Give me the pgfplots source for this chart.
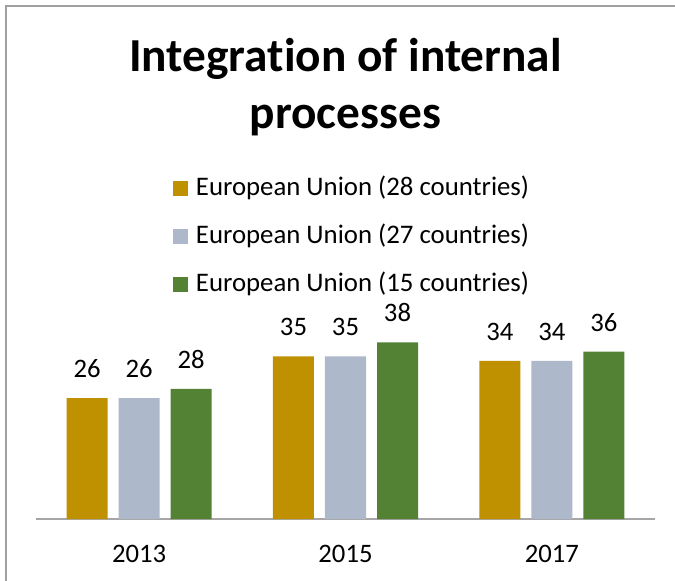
\documentclass[border=0pt]{standalone}
\usepackage{fontspec}
\setmainfont{Carlito}[RawFeature={-liga;-clig;-calt;-dlig}]
\usepackage{pgfplots}
\pgfplotsset{compat=1.18}
\definecolor{cGold}{HTML}{BF9000}
\definecolor{cGray}{HTML}{ADB9CA}
\definecolor{cGreen}{HTML}{548235}
\definecolor{cFrame}{HTML}{A0A0A0}
\definecolor{cAxis}{HTML}{A6A6A6}
\begin{document}
\begin{tikzpicture}
\useasboundingbox (0,0) rectangle (506.25pt,-435.75pt);
\draw[cFrame, line width=1pt] (4.5pt,-435.75pt) -- (4.5pt,-4.5pt) -- (506.25pt,-4.5pt);
\node[anchor=base, inner sep=0pt, font=\fontsize{35.5}{43}\selectfont\bfseries] at (259.1pt,-54pt) {Integrat\kern0pt ion of internal};
\node[anchor=base, inner sep=0pt, font=\fontsize{35.5}{43}\selectfont\bfseries] at (259.1pt,-96.75pt) {processes};
\begin{axis}[
  at={(27pt,-389.25pt)}, anchor=south west,
  scale only axis, width=464.25pt, height=139.5pt,
  xmin=-0.5, xmax=2.5, ymin=0, ymax=40,
  axis x line=bottom, axis y line=none,
  x axis line style={-, draw=cAxis, line width=1pt},
  xtick={0,1,2}, xticklabels={2013,2015,2017},
  major tick length=0pt,
  /pgf/number format/assume math mode=true,
  xticklabel style={anchor=base, yshift=-32.25pt, inner sep=0pt, font=\fontsize{20}{24}\selectfont},
  ytick=\empty,
  clip=false,
  ybar=8.25pt, bar width=30.75pt,
  nodes near coords,
  every node near coord/.append style={anchor=south, inner sep=0pt, yshift=15pt, font=\fontsize{20}{24}\selectfont, text=black},
  legend image code/.code={\fill[#1, draw=none] (0pt,-0.375pt) rectangle (11.25pt,10.875pt);},
  legend style={at={(0.2208,1.8423)}, anchor=north west, draw=none, fill=none, inner sep=0pt,
    row sep=17pt, column sep=6pt,
    nodes={inner sep=0pt, text height=14pt, text depth=5pt, anchor=base west},
    font=\fontsize{20.1}{24}\selectfont},
  legend cell align=left,
]
\addplot[fill=cGold, draw=none] coordinates {(0,26) (1,35) (2,34)};
\addplot[fill=cGray, draw=none] coordinates {(0,26) (1,35) (2,34)};
\addplot[fill=cGreen, draw=none] coordinates {(0,28) (1,38) (2,36)};
\legend{European Union (28 countries), European Union (27 countries), European Union (15 countries)}
\end{axis}
\end{tikzpicture}
\end{document}
